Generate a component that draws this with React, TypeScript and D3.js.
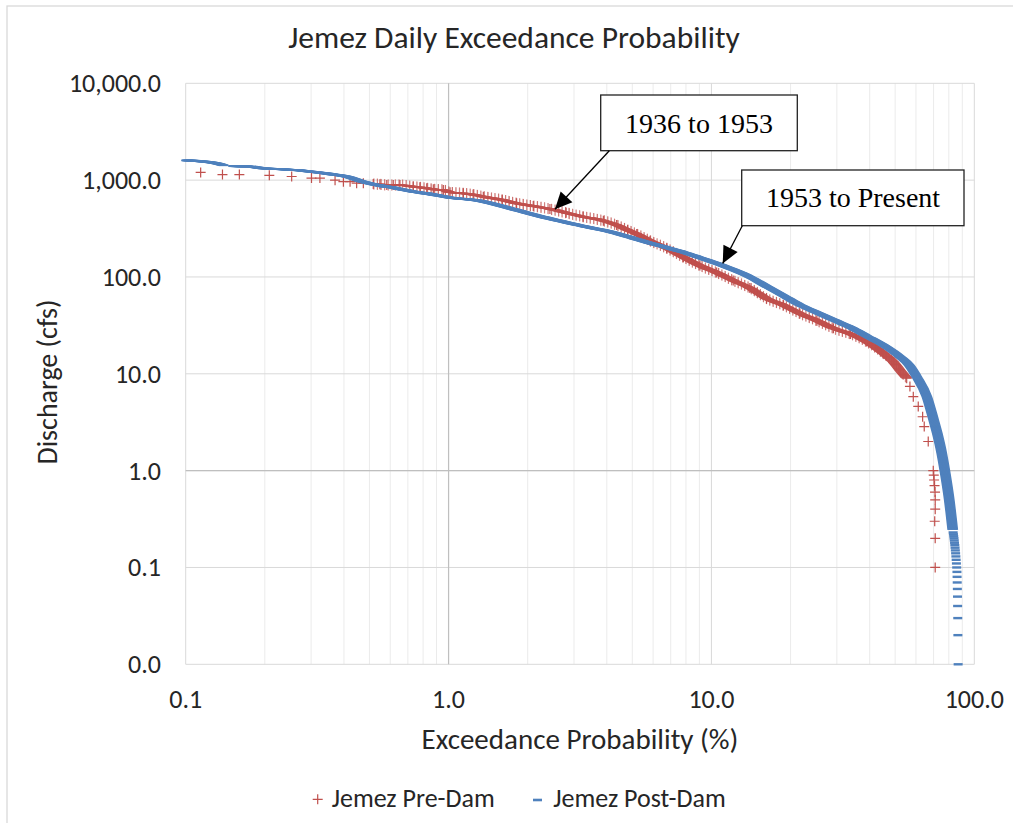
import * as d3 from 'd3';

// Jemez daily flow-duration: exceedance probability (%) vs discharge (cfs)
const preDamP = [
  0.114, 0.138, 0.16, 0.208, 0.253, 0.301, 0.324, 0.37, 0.398, 0.422, 0.447, 0.474,
  0.517, 0.548, 0.582, 0.616, 0.653, 0.734, 0.778, 0.826, 0.875, 0.955, 1.013, 1.138,
  1.24, 1.356, 1.6, 1.815, 2.1, 2.43, 2.8, 3.25, 3.88, 4.36, 4.8, 5.2, 5.84, 6.76,
  7.82, 9.04, 10.47, 12.1, 14.0, 16.2, 18.8, 21.7, 25.2, 29.1, 33.8, 38.9, 45, 49.2,
  52.1, 55.3, 56.9, 58.6, 61.2, 63.6, 64.5, 66.8,
  69.8, 70.1, 70.3, 70.6, 70.9, 71.0, 71.0, 70.7, 71.0, 71.0,
];
const preDamQ = [
  1200, 1140, 1140, 1120, 1090, 1050, 1050, 1000, 965, 965, 930, 930,
  912, 905, 891, 891, 891, 855, 843, 824, 804, 791, 750, 730,
  710, 675, 625, 576, 540, 504, 460, 419, 381, 344, 305, 278, 237, 198,
  160, 131, 111, 92, 77, 60, 51, 42, 35.4, 29.5, 25.8, 21.5, 16.3, 13.3,
  10.9, 9.0, 7.4, 5.8, 4.6, 3.6, 2.85, 2.0,
  1.0, 0.9, 0.8, 0.7, 0.6, 0.5, 0.4, 0.3, 0.2, 0.1,
];

const postDamHeadP = [0.1, 0.118, 0.131, 0.14];
const postDamHeadQ = [1600, 1552, 1493, 1416];
const postDamP = [
  0.151, 0.171, 0.197, 0.228, 0.264, 0.305, 0.354, 0.41, 0.473, 0.548, 0.635, 0.733,
  0.85, 1.0, 1.318, 1.815, 2.43, 3.25, 4.36, 5.05, 5.84, 6.76, 7.82, 9.04, 10.47,
  12.1, 14.0, 16.2, 18.8, 21.7, 25.2, 29.1, 33.8, 38.9, 45, 52.1, 56.5, 60.4, 66,
  69.5, 72.3, 75.2, 77.3, 80.3, 82.8,
];
const postDamQ = [
  1400, 1390, 1325, 1300, 1270, 1220, 1157, 1085, 960, 880, 824, 760,
  719, 665, 610, 490, 400, 335, 282, 251, 223, 201, 180, 158, 138,
  119, 100, 80, 64, 51.4, 42.8, 36, 30.2, 24.6, 19.8, 15, 12.3, 9.3, 5.8,
  3.6, 2.43, 1.51, 0.99, 0.5, 0.244,
];
const postDamTailP = [
  83.1, 83.3, 83.5, 83.7, 83.9, 84.1, 84.3, 84.5, 84.7, 84.9, 85.1, 85.3,
  85.5, 85.7, 85.9, 86.0, 86.1, 86.2, 86.3, 86.4, 86.5, 86.6, 86.8,
];
const postDamTailQ = [
  0.23, 0.22, 0.21, 0.2, 0.19, 0.18, 0.17, 0.16, 0.15, 0.14, 0.13, 0.12,
  0.11, 0.1, 0.09, 0.08, 0.07, 0.06, 0.05, 0.04, 0.03, 0.02, 0.01,
];

const xTickValues = [0.1, 1, 10, 100];
const xTickLabels = ['0.1', '1.0', '10.0', '100.0'];
const yTickValues = [0.01, 0.1, 1, 10, 100, 1000, 10000];
const yTickLabels = ['0.0', '0.1', '1.0', '10.0', '100.0', '1,000.0', '10,000.0'];

const W = 1013;
const H = 823;
const FONT = 'Carlito, Calibri, Lato, sans-serif';
const SERIF = '"Times New Roman", "Liberation Serif", serif';
const RED = '#C0504D';
const BLUE = '#4F81BD';

type Pt = { p: number; q: number };
const zip = (ps: number[], qs: number[]): Pt[] => ps.map((p, i) => ({ p, q: qs[i] }));

export default function App() {
  const x = d3.scaleLog().domain([0.1, 100]).range([185.7, 974.3]);
  const y = d3.scaleLog().domain([0.01, 10000]).range([664.3, 83.3]);

  const pre = zip(preDamP, preDamQ);
  const preBand = pre.filter(d => d.p >= 0.5 && d.q >= 9);
  const postHead = zip(postDamHeadP, postDamHeadQ);
  const post = zip(postDamP, postDamQ);
  const postTail = zip(postDamTailP, postDamTailQ);

  const line = d3.line<Pt>().x(d => x(d.p)).y(d => y(d.q)).curve(d3.curveMonotoneX);

  const minor = x.ticks();
  const sweep = d3.range(-4.5, 4.6, 0.75);
  const redH = d3.range(-5, 5.1, 1);

  // annotation arrows point at data positions
  const tip1 = [x(2.54), y(500)];
  const tip2 = [x(11.04), y(138)];
  const arrowHead = (x0: number, y0: number, x1: number, y1: number) => {
    const a = Math.atan2(y1 - y0, x1 - x0);
    const len = 17, w = 8;
    const bx = x1 - len * Math.cos(a), by = y1 - len * Math.sin(a);
    return `M${x1},${y1}L${bx + w * Math.sin(a)},${by - w * Math.cos(a)}L${bx - w * Math.sin(a)},${by + w * Math.cos(a)}Z`;
  };

  return (
    <svg width={W} height={H} style={{ position: 'absolute', left: 0, top: 0, background: '#fff' }}>
      <rect x={7} y={6} width={1030} height={840} fill="#fff" stroke="#d9d9d9" strokeWidth={1.3} />

      {/* gridlines */}
      {minor.map(t => (
        <line key={'vx' + t} x1={x(t)} x2={x(t)} y1={y(10000)} y2={y(0.01)}
          stroke={xTickValues.includes(t) ? '#d9d9d9' : '#ebebeb'} strokeWidth={1} />
      ))}
      {yTickValues.map(t => (
        <line key={'hy' + t} x1={x(0.1)} x2={x(100)} y1={y(t)} y2={y(t)} stroke="#d9d9d9" strokeWidth={1} />
      ))}
      <line x1={x(1)} x2={x(1)} y1={y(10000)} y2={y(0.01)} stroke="#bfbfbf" strokeWidth={1.2} />
      <line x1={x(0.1)} x2={x(100)} y1={y(1)} y2={y(1)} stroke="#bfbfbf" strokeWidth={1.2} />

      {/* tick labels */}
      <g fontFamily={FONT} fontSize={26} fill="#262626">
        {xTickValues.map((t, i) => (
          <text key={'xl' + t} x={x(t)} y={708} textAnchor="middle">{xTickLabels[i]}</text>
        ))}
        {yTickValues.map((t, i) => (
          <text key={'yl' + t} x={161} y={y(t) + 9} textAnchor="end">{yTickLabels[i]}</text>
        ))}
      </g>

      {/* Pre-Dam: dense crosses */}
      <g fill="none" stroke={RED}>
        {redH.map(dx => (
          <path key={'rh' + dx} d={line(preBand) || ''} transform={`translate(${dx},0)`} strokeWidth={1.2} />
        ))}
        {redH.map(dy => (
          <path key={'rv' + dy} d={line(preBand) || ''} transform={`translate(0,${dy})`}
            strokeWidth={1.1} strokeDasharray="1.2 2.4" strokeOpacity={0.85} />
        ))}
        {pre.map((d, i) => (
          <path key={'rc' + i} d={`M${x(d.p) - 5},${y(d.q)}h10M${x(d.p)},${y(d.q) - 5}v10`} strokeWidth={1.2} />
        ))}
      </g>

      {/* Post-Dam: dense dashes */}
      <g fill="none" stroke={BLUE} strokeWidth={1.8}>
        {sweep.map(dx => (
          <g key={'bs' + dx} transform={`translate(${dx},0)`}>
            <path d={line(postHead) || ''} />
            <path d={line(post) || ''} />
          </g>
        ))}
        {postTail.map((d, i) => (
          <line key={'bt' + i} x1={x(d.p) - 4.5} x2={x(d.p) + 4.5} y1={y(d.q)} y2={y(d.q)} strokeWidth={2.4} />
        ))}
      </g>

      {/* title and axis titles */}
      <text x={514} y={48} textAnchor="middle" fontFamily={FONT} fontSize={31.5} fill="#262626">
        Jemez Daily Exceedance Probability
      </text>
      <text x={580} y={749} textAnchor="middle" fontFamily={FONT} fontSize={29} fill="#262626">
        Exceedance Probability (%)
      </text>
      <text transform="translate(57,382) rotate(-90)" textAnchor="middle" fontFamily={FONT} fontSize={28} fill="#262626">
        Discharge (cfs)
      </text>

      {/* annotations */}
      <g>
        <rect x={600.7} y={95} width={196.6} height={55.7} fill="#fff" stroke="#222" strokeWidth={1.3} />
        <text x={699} y={132.7} textAnchor="middle" fontFamily={SERIF} fontSize={28} fill="#000">1936 to 1953</text>
        <line x1={609.3} y1={150.7} x2={tip1[0]} y2={tip1[1]} stroke="#000" strokeWidth={1.3} />
        <path d={arrowHead(609.3, 150.7, tip1[0], tip1[1])} fill="#000" />

        <rect x={741.7} y={170} width={222.3} height={55.7} fill="#fff" stroke="#222" strokeWidth={1.3} />
        <text x={853} y={206.7} textAnchor="middle" fontFamily={SERIF} fontSize={28} fill="#000">1953 to Present</text>
        <line x1={742.3} y1={225.7} x2={tip2[0]} y2={tip2[1]} stroke="#000" strokeWidth={1.3} />
        <path d={arrowHead(742.3, 225.7, tip2[0], tip2[1])} fill="#000" />
      </g>

      {/* legend */}
      <g fontFamily={FONT} fontSize={26} fill="#262626">
        <path d="M312.7,799.3h10M317.7,794.3v10" stroke={RED} strokeWidth={1.2} fill="none" />
        <text x={331.7} y={807}>Jemez Pre-Dam</text>
        <line x1={533} x2={542} y1={800} y2={800} stroke={BLUE} strokeWidth={2.6} />
        <text x={553.3} y={807}>Jemez Post-Dam</text>
      </g>
    </svg>
  );
}
